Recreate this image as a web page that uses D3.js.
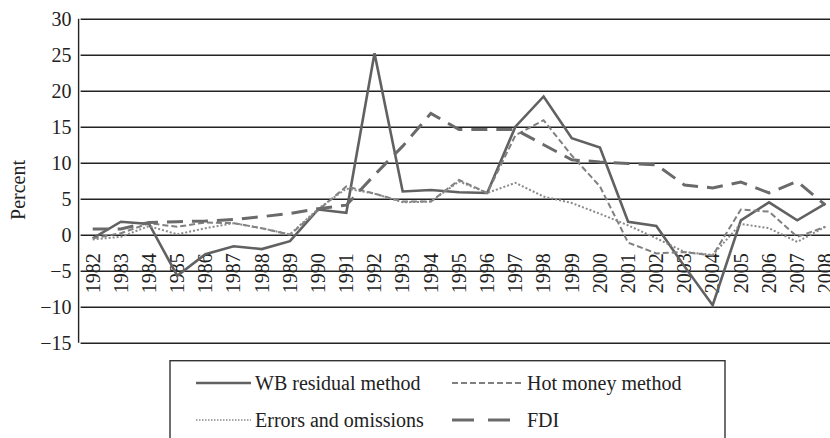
<!DOCTYPE html>
<html>
<head>
<meta charset="utf-8">
<script src="https://cdn.jsdelivr.net/npm/d3@7"></script>
<style>
	body { margin: 0; background: #fff; }
	svg text { font-family: "Liberation Serif", serif !important; fill: #222; }
</style>
</head>
<body>
<script>
// Constant values
const w = 830;
const h = 438;
const margin = { left: 78.6, right: 839.5, top: 18.7, bottom: 342.7 };

// Data
const years = ["1982", "1983", "1984", "1985", "1986", "1987", "1988", "1989", "1990", "1991",
	"1992", "1993", "1994", "1995", "1996", "1997", "1998", "1999", "2000", "2001",
	"2002", "2003", "2004", "2005", "2006", "2007", "2008"];
const wbResidual = [-0.5, 1.8, 1.5, -5.7, -2.7, -1.6, -2.0, -0.9, 3.5, 3.05,
	25.2, 6.0, 6.2, 5.9, 5.8, 15.0, 19.2, 13.4, 12.1, 1.8,
	1.2, -4.4, -9.8, 2.0, 4.5, 2.0, 4.3];
const hotMoney = [-0.5, 0.2, 1.6, 1.1, 1.7, 1.6, 0.9, 0.0, 3.4, 6.7,
	5.7, 4.6, 4.6, 7.6, 5.8, 13.8, 15.9, 11.0, 6.7, -1.1,
	-2.6, -2.4, -2.9, 3.5, 3.2, -0.3, 1.1];
const errorsOmissions = [-0.65, -0.3, 1.2, 0.05, 0.9, 1.6, 0.9, 0.05, 3.6, 6.4,
	5.7, 4.5, 4.6, 7.4, 5.8, 7.2, 5.3, 4.4, 2.9, 1.3,
	-0.5, -2.4, -2.8, 1.5, 0.9, -1.0, 1.1];
const fdi = [0.8, 0.8, 1.7, 1.8, 1.9, 2.1, 2.5, 2.95, 3.6, 4.1,
	8.3, 12.3, 16.85, 14.6, 14.6, 14.6, 12.5, 10.4, 10.1, 9.9,
	9.7, 6.9, 6.5, 7.3, 5.8, 7.4, 4.1];
const yTicks = [-15, -10, -5, 0, 5, 10, 15, 20, 25, 30];

const series = [
	{ name: "WB residual method", values: wbResidual, color: "#616161", width: 2.6, dash: null },
	{ name: "Hot money method", values: hotMoney, color: "#808080", width: 2, dash: "6,3" },
	{ name: "Errors and omissions", values: errorsOmissions, color: "#8a8a8a", width: 2, dash: "2,2" },
	{ name: "FDI", values: fdi, color: "#6a6a6a", width: 3, dash: "16,9" }
];

// Svg canvas
const svg = d3.select('body')
	.append('svg')
	.attr('width', w)
	.attr('height', h);

// Scales
const xScale = d3.scaleBand()
	.domain(years)
	.range([margin.left, margin.right]);

const yScale = d3.scaleLinear()
	.domain([-15, 30])
	.range([margin.bottom, margin.top]);

const xc = (d) => xScale(d) + xScale.bandwidth() / 2;

// Gridlines + y axis labels
const yAxis = d3.axisLeft(yScale)
	.tickValues(yTicks)
	.tickSize(-(margin.right - margin.left))
	.tickPadding(7)
	.tickFormat(d3.format('d'));

svg.append('g')
	.attr('id', 'y-axis')
	.attr('transform', 'translate(' + margin.left + ',0)')
	.call(yAxis)
	.call(g => g.select('.domain').remove())
	.call(g => g.selectAll('line').attr('stroke', '#222').attr('stroke-width', 1.4).attr('x1', 2))
	.call(g => g.selectAll('text')
		.attr('font-size', 20)
		.attr('font-family', '"Liberation Serif", serif')
		.attr('fill', '#222')
		.attr('dy', '0.34em'));

// Left border
svg.append('line')
	.attr('x1', margin.left).attr('x2', margin.left)
	.attr('y1', margin.top).attr('y2', margin.bottom)
	.attr('stroke', '#222')
	.attr('stroke-width', 1.4);

// Year labels, rotated
svg.append('g')
	.attr('id', 'x-labels')
	.selectAll('text')
	.data(years)
	.enter()
	.append('text')
	.attr('transform', (d) => 'translate(' + xc(d) + ',' + (yScale(0) + 18.5) + ') rotate(-90)')
	.attr('text-anchor', 'end')
	.attr('dy', '0.34em')
	.attr('font-size', 20)
	.text((d) => d);

// Lines
const line = d3.line()
	.x((d, i) => xc(years[i]))
	.y((d) => yScale(d));

svg.append('g')
	.selectAll('path')
	.data(series)
	.enter()
	.append('path')
	.attr('d', (s) => line(s.values))
	.attr('fill', 'none')
	.attr('stroke', (s) => s.color)
	.attr('stroke-width', (s) => s.width)
	.attr('stroke-dasharray', (s) => s.dash)
	.attr('stroke-linejoin', 'miter');

// Legend
const legend = svg.append('g').attr('id', 'legend');

legend.append('rect')
	.attr('x', 170)
	.attr('y', 360.7)
	.attr('width', 555)
	.attr('height', 100)
	.attr('fill', 'none')
	.attr('stroke', '#333')
	.attr('stroke-width', 1.4);

const legendPos = [
	{ x: 196, y: 383 },
	{ x: 452, y: 383 },
	{ x: 196, y: 420 },
	{ x: 452, y: 420 }
];

const items = legend.selectAll('.item')
	.data(series)
	.enter()
	.append('g')
	.attr('class', 'item')
	.attr('transform', (s, i) => 'translate(' + legendPos[i].x + ',' + legendPos[i].y + ')');

items.append('line')
	.attr('x1', 0)
	.attr('x2', (s, i) => i === 3 ? 66 : (i === 1 ? 70 : 55))
	.attr('y1', 0).attr('y2', 0)
	.attr('stroke', (s) => s.color)
	.attr('stroke-width', (s, i) => i === 2 ? 1.5 : s.width)
	.attr('stroke-dasharray', (s, i) => i === 3 ? '22,14' : (i === 2 ? '1.5,1.5' : s.dash));

items.append('text')
	.attr('x', (s, i) => i % 2 === 0 ? 59 : 75)
	.attr('y', 6.5)
	.attr('font-size', 20)
	.text((s) => s.name);

// Y axis title
svg.append('text')
	.attr('transform', 'translate(18,190) rotate(-90)')
	.attr('text-anchor', 'middle')
	.attr('dy', '0.34em')
	.attr('font-size', 20)
	.text('Percent');
</script>
</body>
</html>
